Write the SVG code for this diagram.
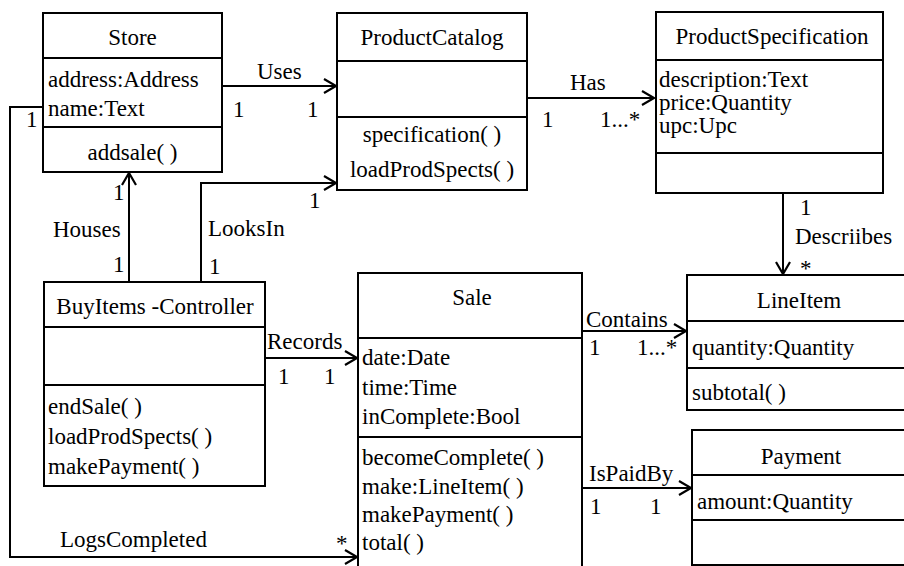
<svg xmlns="http://www.w3.org/2000/svg" width="904" height="566" viewBox="0 0 904 566">
<defs>
<style>
text{font-family:"Liberation Serif","Times New Roman",serif;font-size:23px;fill:#000}
.c{text-anchor:middle}
.box{fill:#fff;stroke:#000;stroke-width:2}
.div{stroke:#000;stroke-width:2}
.con{fill:none;stroke:#000;stroke-width:2}
</style>
<marker id="arr" markerWidth="16" markerHeight="16" refX="13" refY="8" orient="auto" markerUnits="userSpaceOnUse">
<path d="M1,1 L13,8 L1,15" fill="none" stroke="#000" stroke-width="2.2"/>
</marker>
</defs>
<rect width="904" height="566" fill="#fff"/>

<g id="connectors">
<polyline class="con" points="222,86 336,86" marker-end="url(#arr)"/>
<polyline class="con" points="527,98 654,98" marker-end="url(#arr)"/>
<polyline class="con" points="783,193 783,274" marker-end="url(#arr)"/>
<polyline class="con" points="129,282 129,173" marker-end="url(#arr)"/>
<polyline class="con" points="201,282 201,183 336,183" marker-end="url(#arr)"/>
<polyline class="con" points="265,358 357,358" marker-end="url(#arr)"/>
<polyline class="con" points="582,331 686,331" marker-end="url(#arr)"/>
<polyline class="con" points="582,488 691,488" marker-end="url(#arr)"/>
<polyline class="con" points="43,107 10,107 10,557 357,557" marker-end="url(#arr)"/>
<text x="257" y="79">Uses</text>
<text x="233" y="117">1</text>
<text x="307" y="117">1</text>
<text x="570" y="90">Has</text>
<text x="542" y="127">1</text>
<text x="600" y="127">1...*</text>
<text x="800" y="215">1</text>
<text x="795" y="244">Descriibes</text>
<text x="800" y="276">*</text>
<text x="113" y="200">1</text>
<text x="53" y="237">Houses</text>
<text x="113" y="272">1</text>
<text x="309" y="208">1</text>
<text x="208" y="236">LooksIn</text>
<text x="209" y="274">1</text>
<text x="267" y="349">Records</text>
<text x="278" y="384">1</text>
<text x="324" y="384">1</text>
<text x="586" y="327">Contains</text>
<text x="589" y="355">1</text>
<text x="637" y="355">1...*</text>
<text x="589" y="481">IsPaidBy</text>
<text x="590" y="514">1</text>
<text x="650" y="514">1</text>
<text x="26" y="127">1</text>
<text x="60" y="547">LogsCompleted</text>
<text x="336" y="551">*</text>
</g>

<g id="Store">
<rect class="box" x="43" y="13" width="179" height="159"/>
<line class="div" x1="43" y1="58" x2="222" y2="58"/>
<line class="div" x1="43" y1="127" x2="222" y2="127"/>
<text class="c" x="132.5" y="45">Store</text>
<text x="48" y="87">address:Address</text>
<text x="48" y="116">name:Text</text>
<text class="c" x="132.5" y="160">addsale( )</text>
</g>

<g id="ProductCatalog">
<rect class="box" x="337" y="13" width="190" height="177"/>
<line class="div" x1="337" y1="61" x2="527" y2="61"/>
<line class="div" x1="337" y1="117" x2="527" y2="117"/>
<text class="c" x="432" y="45">ProductCatalog</text>
<text class="c" x="432" y="142">specification( )</text>
<text class="c" x="432" y="177">loadProdSpects( )</text>
</g>

<g id="ProductSpecification">
<rect class="box" x="656" y="12" width="227" height="181"/>
<line class="div" x1="656" y1="60" x2="883" y2="60"/>
<line class="div" x1="656" y1="153" x2="883" y2="153"/>
<text class="c" x="772" y="44">ProductSpecification</text>
<text x="659" y="87">description:Text</text>
<text x="659" y="110">price:Quantity</text>
<text x="659" y="133">upc:Upc</text>
</g>

<g id="BuyItemsController">
<rect class="box" x="44" y="282" width="221" height="204"/>
<line class="div" x1="44" y1="327" x2="265" y2="327"/>
<line class="div" x1="44" y1="385" x2="265" y2="385"/>
<text class="c" x="155" y="314">BuyItems -Controller</text>
<text x="48" y="414">endSale( )</text>
<text x="48" y="444">loadProdSpects( )</text>
<text x="48" y="474">makePayment( )</text>
</g>

<g id="Sale">
<rect class="box" x="358" y="273" width="224" height="300"/>
<line class="div" x1="358" y1="338" x2="582" y2="338"/>
<line class="div" x1="358" y1="437" x2="582" y2="437"/>
<text class="c" x="472" y="305">Sale</text>
<text x="362" y="365">date:Date</text>
<text x="362" y="395">time:Time</text>
<text x="362" y="424">inComplete:Bool</text>
<text x="362" y="465">becomeComplete( )</text>
<text x="362" y="494">make:LineItem( )</text>
<text x="362" y="522">makePayment( )</text>
<text x="362" y="550">total( )</text>
</g>

<g id="LineItem">
<rect class="box" x="687" y="275" width="230" height="135"/>
<line class="div" x1="687" y1="321" x2="917" y2="321"/>
<line class="div" x1="687" y1="368" x2="917" y2="368"/>
<text class="c" x="799" y="308">LineItem</text>
<text x="692" y="355">quantity:Quantity</text>
<text x="692" y="400">subtotal( )</text>
</g>

<g id="Payment">
<rect class="box" x="692" y="430" width="225" height="135"/>
<line class="div" x1="692" y1="475" x2="917" y2="475"/>
<line class="div" x1="692" y1="520" x2="917" y2="520"/>
<text class="c" x="801" y="464">Payment</text>
<text x="697" y="509">amount:Quantity</text>
</g>
</svg>
